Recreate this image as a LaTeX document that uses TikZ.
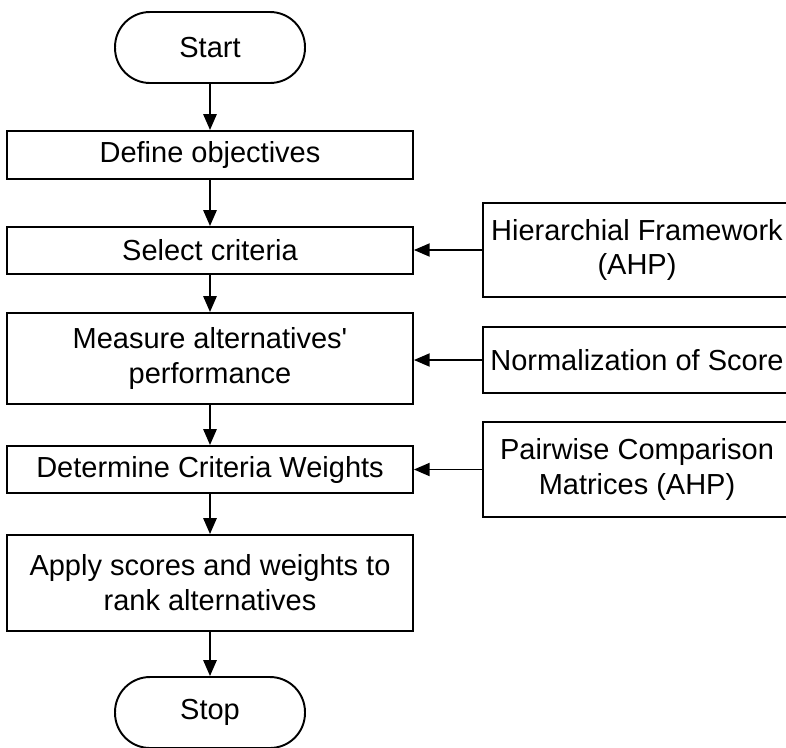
\documentclass[tikz,border=0pt]{standalone}
\usepackage{fontspec}
\setmainfont{Liberation Sans}
\usetikzlibrary{arrows.meta}

\begin{document}
\begin{tikzpicture}[x=0.02cm,y=-0.02cm,
  font=\fontsize{16.5}{19.8}\selectfont,
  termbox/.style={draw,line width=1.1pt,rounded corners=0.7cm,minimum width=3.8cm,minimum height=1.42cm,inner sep=0pt},
  procbox/.style={draw,line width=1.1pt,minimum width=8.12cm,inner sep=0pt,align=center},
  sidebox/.style={draw,line width=0.9pt,minimum width=6.16cm,inner sep=0pt,align=center},
  flow/.style={line width=1.1pt,-{Triangle[length=9pt,width=7.5pt]}}]

\useasboundingbox (0,0) rectangle (786,747);
\clip (0,0) rectangle (786,747);

% Main column
\node[termbox] (start) at (210,47.5) {Start};
\node[procbox,minimum height=0.96cm] (objectives) at (210,155) {Define objectives};
\node[procbox,minimum height=0.94cm] (criteria) at (210,250.5) {Select criteria};
\node[procbox,minimum height=1.82cm] (measure) at (210,358.5) {Measure alternatives\textquotesingle\\performance};
\node[procbox,minimum height=0.94cm] (weights) at (210,469.5) {Determine Criteria Weights};
\node[procbox,minimum height=1.92cm] (rank) at (210,583) {Apply scores and weights to\\rank alternatives};
\node[termbox] (stop) at (210,712.5) {Stop};

% Side inputs
\node[sidebox,minimum height=1.88cm] (framework) at (637,250) {Hierarchial Framework\\(AHP)};
\node[sidebox,minimum height=1.32cm] (normal) at (637,360) {Normalization of Score};
\node[sidebox,minimum height=1.9cm] (pairwise) at (637,469.5) {Pairwise Comparison\\Matrices (AHP)};

% Flow
\draw[flow] (start) -- (objectives);
\draw[flow] (objectives) -- (criteria);
\draw[flow] (criteria) -- (measure);
\draw[flow] (measure) -- (weights);
\draw[flow] (weights) -- (rank);
\draw[flow] (rank) -- (stop);

% Inputs to steps
\draw[flow,line width=0.9pt] (framework.west) -- (framework.west -| criteria.east);
\draw[flow,line width=0.9pt] (normal.west) -- (normal.west -| measure.east);
\draw[flow,line width=0.9pt] (pairwise.west) -- (pairwise.west -| weights.east);

\end{tikzpicture}
\end{document}
